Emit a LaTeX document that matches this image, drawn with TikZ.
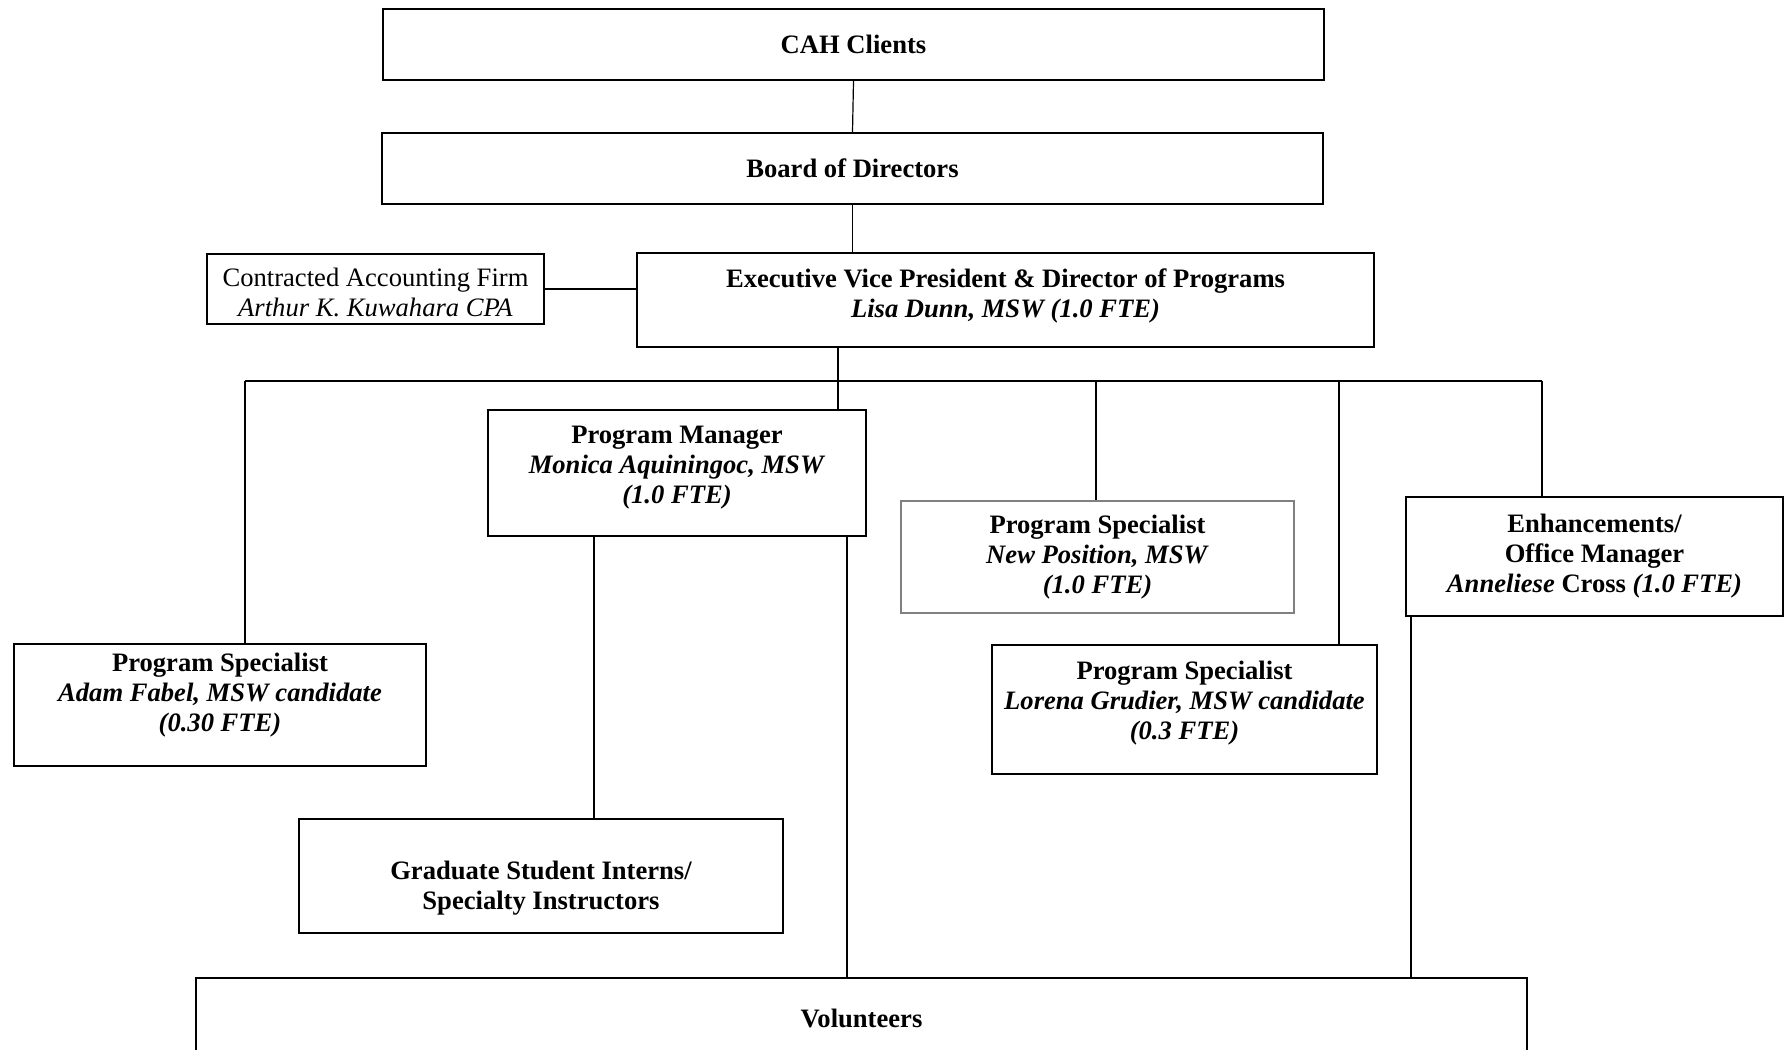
\documentclass[tikz,border=0pt]{standalone}
\usepackage{fontspec}
\setmainfont{Liberation Serif}
\begin{document}
\begin{tikzpicture}[x=0.5pt,y=-0.5pt,
  box/.style={draw,line width=1pt,align=center,inner sep=0pt,
    font=\bfseries\fontsize{13.3}{15}\selectfont},
  link/.style={line width=0.6pt}]

\useasboundingbox (0,0) rectangle (1784,1050);

% 上层
\node[box,minimum width=470.5pt,minimum height=35.5pt] (cah) at (853.5,44.5) {CAH Clients};
\node[box,minimum width=470.5pt,minimum height=35.5pt] (board) at (852.5,168.5) {Board of Directors};
\node[box,text depth=7pt,minimum width=368.5pt,minimum height=47pt] (exec) at (1005.5,300)
  {Executive Vice President \& Director of Programs\\ \textit{Lisa Dunn, MSW (1.0 FTE)}};
\node[box,line width=0.6pt,font=\fontsize{13.3}{15}\selectfont,text height=27.5pt,minimum width=168.5pt,minimum height=35pt] (acct) at (375.5,289)
  {Contracted Accounting Firm\\ \textit{Arthur K. Kuwahara CPA}};

% 中层
\node[box,text depth=13pt,minimum width=206pt,minimum height=61pt] (adam) at (220,705)
  {Program Specialist\\ \textit{Adam Fabel, MSW candidate}\\ \textit{(0.30 FTE)}};
\node[box,text depth=8pt,minimum width=189pt,minimum height=63pt] (pm) at (677,473)
  {Program Manager\\ \textit{Monica Aquiningoc, MSW}\\ \textit{(1.0 FTE)}};
\node[box,draw=gray,line width=0.6pt,minimum width=196.5pt,minimum height=56pt] (newpos) at (1097.5,557)
  {Program Specialist\\ \textit{New Position, MSW}\\ \textit{(1.0 FTE)}};
\node[box,line width=1.3pt,text depth=9pt,minimum width=192.5pt,minimum height=64.5pt] (lorena) at (1184.5,709.5)
  {Program Specialist\\ \textit{Lorena Grudier, MSW candidate}\\ \textit{(0.3 FTE)}};
\node[box,minimum width=188.5pt,minimum height=59.5pt] (enh) at (1594.5,556.5)
  {Enhancements/\\ Office Manager\\ \textit{Anneliese} Cross \textit{(1.0 FTE)}};

% 下层
\node[box,text height=36pt,minimum width=242pt,minimum height=57pt] (grad) at (541,876)
  {Graduate Student Interns/\\ Specialty Instructors};
\node[box,minimum width=665.5pt,minimum height=40pt] (vol) at (861.5,1018) {Volunteers};

% 连线
\draw[link] (cah.south) -- (board.north);
\draw[link] (board.south) -- (board.south |- exec.north);
\draw[link] (acct.east) -- (acct.east -| exec.west);
\coordinate (e) at (838,0);
\draw[link] (e |- exec.south) -- (e |- pm.north);
\coordinate (bl) at (245,381);
\coordinate (br) at (1542,381);
\draw[link] (bl) -- (br);
\foreach \x/\n in {245/adam,1096/newpos,1339/lorena,1542/enh}{
  \coordinate (d) at (\x,381);
  \draw[link] (d) -- (d |- \n.north);
}
\coordinate (g) at (594,0);
\draw[link] (g |- pm.south) -- (g |- grad.north);
\foreach \x/\n in {847/pm,1411/enh}{
  \coordinate (d) at (\x,0);
  \draw[link] (d |- \n.south) -- (d |- vol.north);
}
\end{tikzpicture}
\end{document}
